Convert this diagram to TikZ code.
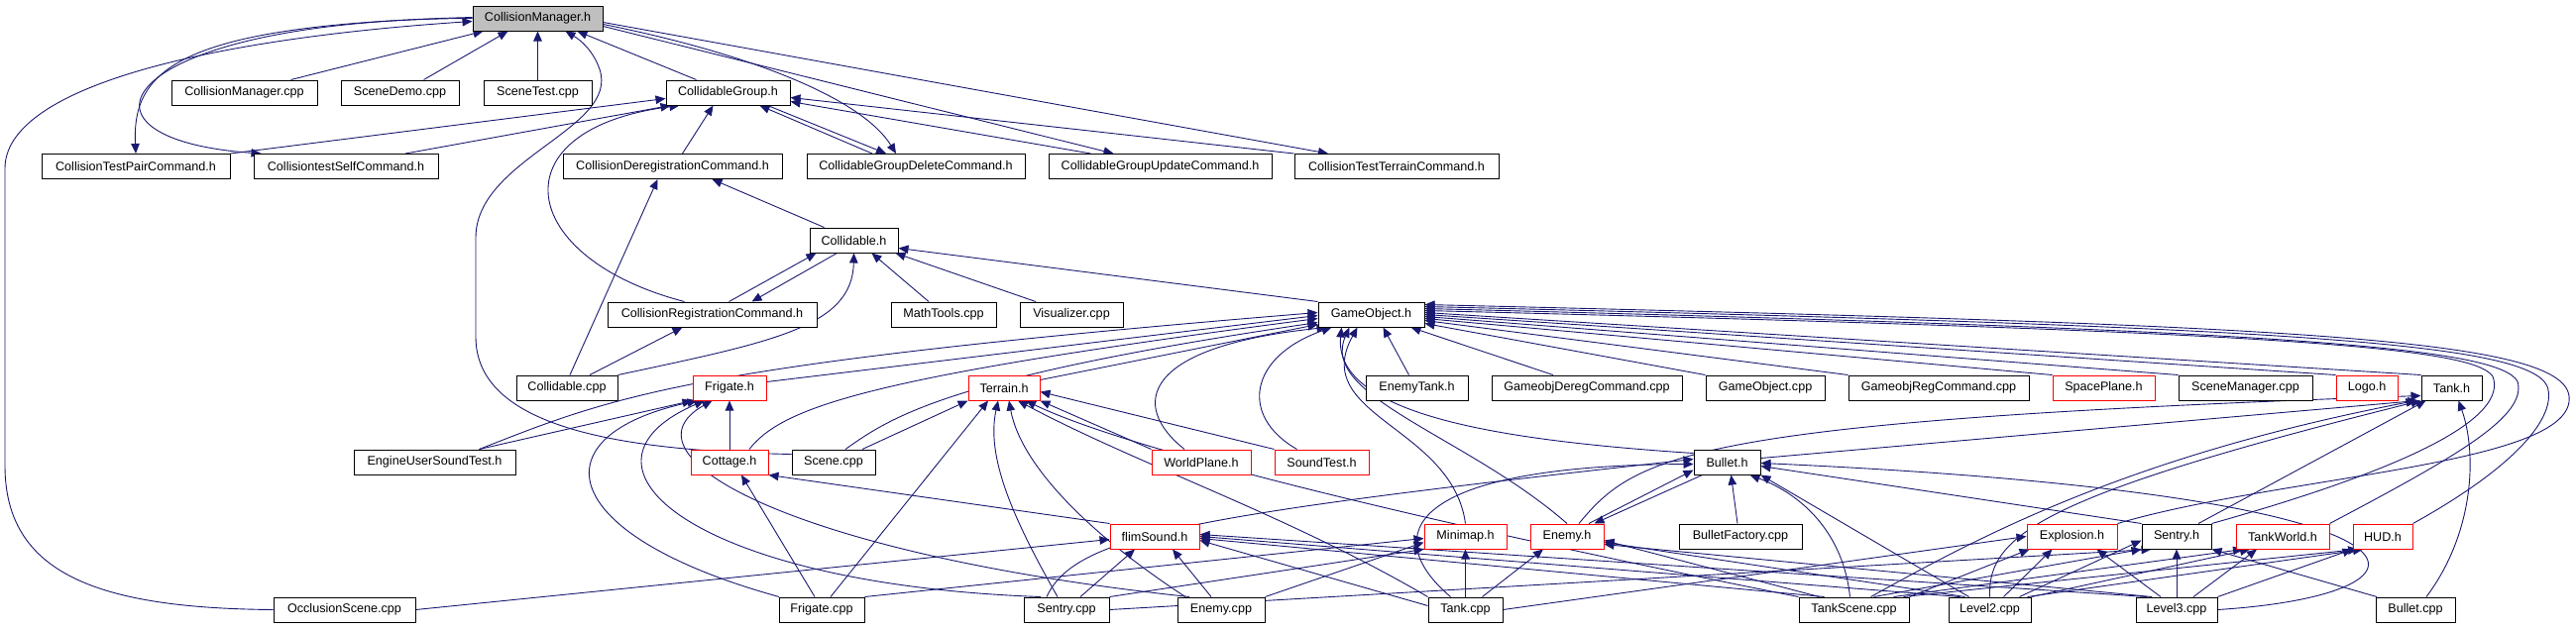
\documentclass[tikz,border=0pt]{standalone}
\usepackage{fontspec}
\setmainfont{Liberation Sans}
\usetikzlibrary{arrows.meta}
\definecolor{edgec}{HTML}{191970}
\definecolor{cmfill}{HTML}{BFBFBF}
\pgfdeclarelayer{bg}
\pgfsetlayers{bg,main}
\tikzset{
  box/.style={draw=black, line width=1pt, minimum height=25pt, inner sep=0pt, fill=white,
    font=\fontsize{12.6}{14}\selectfont},
  rbox/.style={box, draw=red},
  e/.style={draw=edgec, line width=0.9pt, -{Triangle[length=10pt,width=8.5pt]}},
}
\begin{document}
\begin{tikzpicture}[x=1pt,y=-1pt]
\useasboundingbox (0,0) rectangle (2599,635);
% nodes
\node[box,fill=cmfill,minimum width=131pt] (cmh) at (542.5,18.5) {CollisionManager.h};
\node[box,minimum width=147pt] (cmcpp) at (246.5,93.5) {CollisionManager.cpp};
\node[box,minimum width=119pt] (sdemo) at (403.5,93.5) {SceneDemo.cpp};
\node[box,minimum width=109pt] (stest) at (542.5,93.5) {SceneTest.cpp};
\node[box,minimum width=125pt] (cgh) at (734.5,93.5) {CollidableGroup.h};
\node[box,minimum width=190pt] (ctpc) at (137,168) {CollisionTestPairCommand.h};
\node[box,minimum width=186pt] (ctsc) at (349,168) {CollisiontestSelfCommand.h};
\node[box,minimum width=221pt] (cdc) at (678.5,168) {CollisionDeregistrationCommand.h};
\node[box,minimum width=220pt] (cgdc) at (924,168) {CollidableGroupDeleteCommand.h};
\node[box,minimum width=225pt] (cguc) at (1170.5,168) {CollidableGroupUpdateCommand.h};
\node[box,minimum width=206pt] (cttc) at (1409,168) {CollisionTestTerrainCommand.h};
\node[box,minimum width=89pt] (colh) at (861.5,242.5) {Collidable.h};
\node[box,minimum width=211pt] (crc) at (718.5,317.5) {CollisionRegistrationCommand.h};
\node[box,minimum width=106pt] (mtools) at (952,317.5) {MathTools.cpp};
\node[box,minimum width=104pt] (vis) at (1081,317.5) {Visualizer.cpp};
\node[box,minimum width=107pt] (goh) at (1383.5,317.5) {GameObject.h};
\node[box,minimum width=102pt] (colcpp) at (572,391.5) {Collidable.cpp};
\node[rbox,minimum width=74pt] (frih) at (736,391.5) {Frigate.h};
\node[rbox,minimum width=72pt] (terh) at (1013,391.5) {Terrain.h};
\node[box,minimum width=103pt] (etank) at (1429.5,391.5) {EnemyTank.h};
\node[box,minimum width=192pt] (gdereg) at (1601,391.5) {GameobjDeregCommand.cpp};
\node[box,minimum width=120pt] (gocpp) at (1781,391.5) {GameObject.cpp};
\node[box,minimum width=182pt] (greg) at (1956,391.5) {GameobjRegCommand.cpp};
\node[rbox,minimum width=103pt] (splane) at (2122.5,391.5) {SpacePlane.h};
\node[box,minimum width=135pt] (smgr) at (2265.5,391.5) {SceneManager.cpp};
\node[rbox,minimum width=62pt] (logo) at (2388,391.5) {Logo.h};
\node[box,minimum width=61pt] (tankh) at (2473.5,391.5) {Tank.h};
\node[box,minimum width=163pt] (eust) at (438.5,466.5) {EngineUserSoundTest.h};
\node[rbox,minimum width=78pt] (cott) at (736,466.5) {Cottage.h};
\node[box,minimum width=84pt] (scene) at (841,466.5) {Scene.cpp};
\node[rbox,minimum width=100pt] (wplane) at (1212,466.5) {WorldPlane.h};
\node[rbox,minimum width=95pt] (stesth) at (1333.5,466.5) {SoundTest.h};
\node[box,minimum width=67pt] (bulh) at (1742.5,466.5) {Bullet.h};
\node[rbox,minimum width=90pt] (flim) at (1165,541.5) {flimSound.h};
\node[rbox,minimum width=83pt] (minimap) at (1478.5,541.5) {Minimap.h};
\node[rbox,minimum width=74pt] (enemyh) at (1581,541.5) {Enemy.h};
\node[box,minimum width=124pt] (bfact) at (1756,541.5) {BulletFactory.cpp};
\node[rbox,minimum width=91pt] (expl) at (2090.5,541.5) {Explosion.h};
\node[box,minimum width=70pt] (sentryh) at (2196,541.5) {Sentry.h};
\node[rbox,minimum width=94pt] (tworld) at (2303,541.5) {TankWorld.h};
\node[rbox,minimum width=60pt] (hud) at (2404,541.5) {HUD.h};
\node[box,minimum width=143pt] (occl) at (347.5,615.5) {OcclusionScene.cpp};
\node[box,minimum width=86pt] (fricpp) at (829,615.5) {Frigate.cpp};
\node[box,minimum width=86pt] (sentcpp) at (1076,615.5) {Sentry.cpp};
\node[box,minimum width=88pt] (enecpp) at (1232,615.5) {Enemy.cpp};
\node[box,minimum width=75pt] (tankcpp) at (1478.5,615.5) {Tank.cpp};
\node[box,minimum width=111pt] (tscene) at (1870.5,615.5) {TankScene.cpp};
\node[box,minimum width=83pt] (lvl2) at (2007.5,615.5) {Level2.cpp};
\node[box,minimum width=82pt] (lvl3) at (2196,615.5) {Level3.cpp};
\node[box,minimum width=80pt] (bulcpp) at (2437,615.5) {Bullet.cpp};

\begin{pgfonlayer}{bg}
% ---------- top part ----------
\draw[e] ([xshift=47pt]cmcpp.north) -- ([xshift=-55pt]cmh.south);
\draw[e] ([xshift=24pt]sdemo.north) -- ([xshift=-30pt]cmh.south);
\draw[e] (stest.north) -- (cmh.south);
\draw[e] ([xshift=-32pt]cgh.north) -- ([xshift=40pt]cmh.south);
\draw[e] (occl.west) .. controls (100,614) and (5,580) .. (5,470) -- (5,170) .. controls (5,90) and (200,40) .. ([yshift=-3pt]cmh.west);
\draw[e] ([yshift=8pt]scene.west) .. controls (620,455) and (480,430) .. (480,340) -- (480,240) .. controls (480,160) and (625,130) .. (605,70) .. controls (598,50) and (585,40) .. ([xshift=28pt]cmh.south);
\draw[e] ([yshift=1pt]cmh.west) .. controls (180,25) and (133,70) .. (ctpc.north);
\draw[e] (cmh.west) .. controls (120,20) and (50,140) .. ([xshift=8pt]ctsc.north west);
\draw[e] ([yshift=-6pt]cmh.east) .. controls (760,55) and (870,100) .. ([xshift=-20pt]cgdc.north);
\draw[e] ([yshift=-8pt]cmh.east) -- ([xshift=-47pt]cguc.north);
\draw[e] ([yshift=-4pt]cmh.east) -- ([xshift=-69pt]cttc.north);
\draw[e] ([xshift=-44pt]cgdc.north) -- ([xshift=32pt]cgh.south);
\draw[e] ([xshift=40pt]cgh.south) -- ([xshift=-30pt]cgdc.north);
\draw[e] ([xshift=-70pt]cguc.north) -- ([yshift=-9pt]cgh.east);
\draw[e] (cttc.north west) -- ([yshift=-5pt]cgh.east);
\draw[e] (ctpc.north east) -- ([yshift=-6pt]cgh.west);
\draw[e] ([xshift=60pt]ctsc.north) -- ([xshift=5pt]cgh.south west);
\draw[e] ([xshift=-28pt]crc.north) .. controls (520,260) and (500,130) .. ([xshift=14pt]cgh.south west);
\draw[e] ([xshift=10pt]cdc.north) -- ([xshift=-15pt]cgh.south);
\draw[e] ([xshift=3pt]colcpp.north) -- ([xshift=-15pt]cdc.south);
\draw[e] ([xshift=-30pt]colh.north) -- ([xshift=40pt]cdc.south);
\draw[e] ([xshift=17pt]crc.north) -- ([xshift=-38pt]colh.south);
\draw[e] ([xshift=-17pt]colh.south) -- ([xshift=40pt]crc.north);
\draw[e] ([xshift=23pt]colcpp.north) -- ([xshift=-30pt]crc.south);
\draw[e] (colcpp.north east) .. controls (780,345) and (860,330) .. (colh.south);
\draw[e] ([xshift=-15pt]mtools.north) -- ([xshift=18pt]colh.south);
\draw[e] ([xshift=-36pt]vis.north) -- ([xshift=42pt]colh.south);
\draw[e] (goh.north west) -- ([yshift=-8pt]colh.east);

% ---------- GameObject.h ----------
\draw[e] ([xshift=45pt]eust.north) .. controls (620,400) and (690,368) .. ([yshift=2pt]goh.west);
\draw[e] ([yshift=6pt]frih.east) -- ([yshift=-1pt]goh.west);
\draw[e] ([xshift=20pt]cott.north) .. controls (790,410) and (880,380) .. ([yshift=-4pt]goh.west);
\draw[e] ([xshift=12pt]scene.north) .. controls (900,420) and (960,380) .. ([yshift=-8pt]goh.west);
\draw[e] ([yshift=8pt]terh.east) -- ([yshift=-10pt]goh.west);
\draw[e] ([xshift=-17pt]wplane.north) .. controls (1140,410) and (1150,350) .. ([xshift=-45pt]goh.south);
\draw[e] ([xshift=-25pt]stesth.north) .. controls (1250,420) and (1260,360) .. ([xshift=-40pt]goh.south);
\draw[e] ([xshift=-8pt]etank.north) -- ([xshift=12pt]goh.south);
\draw[e] (minimap.north) .. controls (1465,430) and (1320,420) .. ([xshift=-14pt]goh.south);
\draw[e] (enemyh.north) .. controls (1480,440) and (1330,400) .. ([xshift=-22pt]goh.south);
\draw[e] ([yshift=9pt]bulh.west) .. controls (1520,445) and (1345,420) .. ([xshift=-30pt]goh.south);
\draw[e] ([xshift=-34pt]gdereg.north) -- ([xshift=40pt]goh.south);
\draw[e] (gocpp.north west) -- ([yshift=-9pt]goh.east);
\draw[e] (greg.north west) -- ([yshift=-6pt]goh.east);
\draw[e] (splane.north west) -- ([yshift=-4pt]goh.east);
\draw[e] (smgr.north west) -- ([yshift=-2pt]goh.east);
\draw[e] (logo.north west) -- (goh.east);
\draw[e] (tankh.north west) -- ([yshift=2pt]goh.east);
\draw[e] (sentryh.north east) .. controls (2440,470) and (2530,420) .. (2515,380) .. controls (2495,350) and (2300,335) .. ([yshift=4pt]goh.east);
\draw[e] (tworld.north east) .. controls (2480,460) and (2550,420) .. (2540,385) .. controls (2520,350) and (2300,333) .. ([yshift=6pt]goh.east);
\draw[e] (hud.north east) .. controls (2540,470) and (2580,420) .. (2570,390) .. controls (2550,345) and (2300,330) .. ([yshift=8pt]goh.east);
\draw[e] (expl.north east) .. controls (2300,480) and (2600,470) .. (2592,400) .. controls (2585,340) and (2300,328) .. ([yshift=10pt]goh.east);

% ---------- Frigate.h / Cottage.h ----------
\draw[e] ([xshift=45pt]eust.north) -- (frih.south west);
\draw[e] (cott.north) -- (frih.south);
\draw[e] ([xshift=-43pt]fricpp.north) .. controls (560,540) and (540,440) .. ([xshift=5pt]frih.south west);
\draw[e] ([xshift=-26pt]sentcpp.north) .. controls (700,590) and (560,470) .. ([xshift=12pt]frih.south west);
\draw[e] ([xshift=-32pt]enecpp.north) .. controls (800,560) and (620,460) .. ([xshift=20pt]frih.south west);
\draw[e] ([xshift=-7pt]fricpp.north) -- ([xshift=12pt]cott.south);
\draw[e] (flim.north west) -- (cott.south east);

% ---------- Terrain.h ----------
\draw[e] ([xshift=29pt]scene.north) -- (terh.south west);
\draw[e] ([xshift=9pt]fricpp.north) -- ([xshift=-16pt]terh.south);
\draw[e] ([xshift=-9pt]sentcpp.north) .. controls (1020,520) and (995,460) .. ([xshift=-6pt]terh.south);
\draw[e] ([xshift=-36pt]enecpp.north) .. controls (1100,540) and (1030,470) .. ([xshift=5pt]terh.south);
\draw[e] (wplane.north west) -- (terh.south east);
\draw[e] (stesth.north west) -- ([yshift=-4pt]terh.east);
\draw[e] (tankcpp.north west) .. controls (1300,520) and (1150,470) .. ([xshift=14pt]terh.south);
\draw[e] (tscene.north west) .. controls (1500,540) and (1150,460) .. ([xshift=22pt]terh.south);

% ---------- flimSound.h ----------
\draw[e] (occl.east) -- ([yshift=-3pt]flim.west);
\draw[e] ([xshift=14pt]sentcpp.north) -- ([xshift=-20pt]flim.south);
\draw[e] ([xshift=-10pt]enecpp.north) -- ([xshift=18pt]flim.south);
\draw[e] ([yshift=4pt]tankcpp.west) -- ([yshift=-4pt]flim.east);
\draw[e] ([xshift=-30pt]tscene.north) -- ([yshift=-2pt]flim.east);
\draw[e] ([xshift=-30pt]lvl2.north) -- (flim.east);
\draw[e] ([xshift=-30pt]lvl3.north) -- ([yshift=2pt]flim.east);

% ---------- Minimap / Enemy ----------
\draw[e] (tankcpp.north) -- (minimap.south);
\draw[e] ([xshift=17pt]tankcpp.north) -- ([xshift=-24pt]enemyh.south);
\draw[e] (fricpp.north east) -- ([yshift=-2pt]minimap.west);
\draw[e] (sentcpp.north east) -- (minimap.south west);
\draw[e] (enecpp.north east) -- ([yshift=-6pt]minimap.west);
\draw[e] ([xshift=-35pt]tscene.north) -- ([yshift=-4pt]enemyh.east);
\draw[e] ([xshift=-25pt]lvl2.north) -- ([yshift=-6pt]enemyh.east);
\draw[e] ([xshift=-25pt]lvl3.north) -- ([yshift=-8pt]enemyh.east);
\draw[e] ([xshift=22pt]enemyh.north) -- ([yshift=-8pt]bulh.west);
\draw[e] ([xshift=-25pt]bulh.south) -- ([xshift=-10pt]enemyh.north east);
\draw[e] ([xshift=-15pt]tankcpp.north) .. controls (1390,540) and (1420,470) .. ([yshift=-2pt]bulh.west);

% ---------- Bullet.h ----------
\draw[e] ([xshift=-4pt]tscene.north) .. controls (1860,540) and (1820,500) .. ([xshift=23pt]bulh.south);
\draw[e] ([xshift=-21pt]lvl2.north) -- (bulh.south east);
\draw[e] ([xshift=-3pt]bfact.north) -- ([xshift=4pt]bulh.south);
\draw[e] ([xshift=-20pt]sentcpp.north) .. controls (1085,540) and (1200,520) .. ([yshift=3pt]bulh.west);
\draw[e] (sentryh.north west) -- ([yshift=-4pt]bulh.east);
\draw[e] (lvl3.east) .. controls (2480,600) and (2500,500) .. ([yshift=-1pt]bulh.east);

% ---------- Tank.h ----------
\draw[e] ([xshift=17pt]tscene.north) .. controls (2000,540) and (2150,460) .. ([xshift=-5pt]tankh.south west);
\draw[e] (lvl2.north) .. controls (2005,540) and (2060,500) .. (tankh.south west);
\draw[e] ([xshift=12pt]enemyh.north) .. controls (1650,460) and (1700,425) .. ([yshift=-8pt]tankh.west);
\draw[e] ([yshift=4pt]bulh.east) -- ([xshift=-3pt]tankh.south west);
\draw[e] ([xshift=22pt]sentryh.north) -- ([xshift=5pt]tankh.south west);
\draw[e] ([xshift=11pt]bulcpp.north) .. controls (2495,540) and (2500,460) .. ([xshift=7pt]tankh.south);

% ---------- Explosion / Sentry / TankWorld / HUD ----------
\draw[e] (tscene.north east) -- ([xshift=3pt]expl.south west);
\draw[e] ([xshift=14pt]lvl2.north) -- ([xshift=-20pt]expl.south);
\draw[e] ([xshift=-16pt]lvl3.north) -- ([xshift=25pt]expl.south);
\draw[e] (tankcpp.east) -- (expl.west);
\draw[e] (lvl3.north) -- (sentryh.south);
\draw[e] ([xshift=20pt]tscene.north) -- (sentryh.south west);
\draw[e] ([xshift=30pt]lvl2.north) -- ([yshift=-4pt]sentryh.west);
\draw[e] ([xshift=-39pt]bulcpp.north) -- (sentryh.south east);
\draw[e] (sentcpp.east) -- ([xshift=10pt]sentryh.south west);
\draw[e] ([xshift=17pt]lvl3.north) -- ([xshift=-26pt]tworld.south);
\draw[e] ([xshift=40pt]tscene.north) -- ([xshift=-40pt]tworld.south);
\draw[e] (lvl2.north east) -- ([xshift=-33pt]tworld.south);
\draw[e] (lvl3.north east) -- (hud.south west);
\draw[e] ([xshift=50pt]tscene.north) -- ([xshift=-25pt]hud.south);
\draw[e] ([xshift=38pt]lvl2.north) -- ([xshift=-20pt]hud.south);
\end{pgfonlayer}
\end{tikzpicture}
\end{document}
